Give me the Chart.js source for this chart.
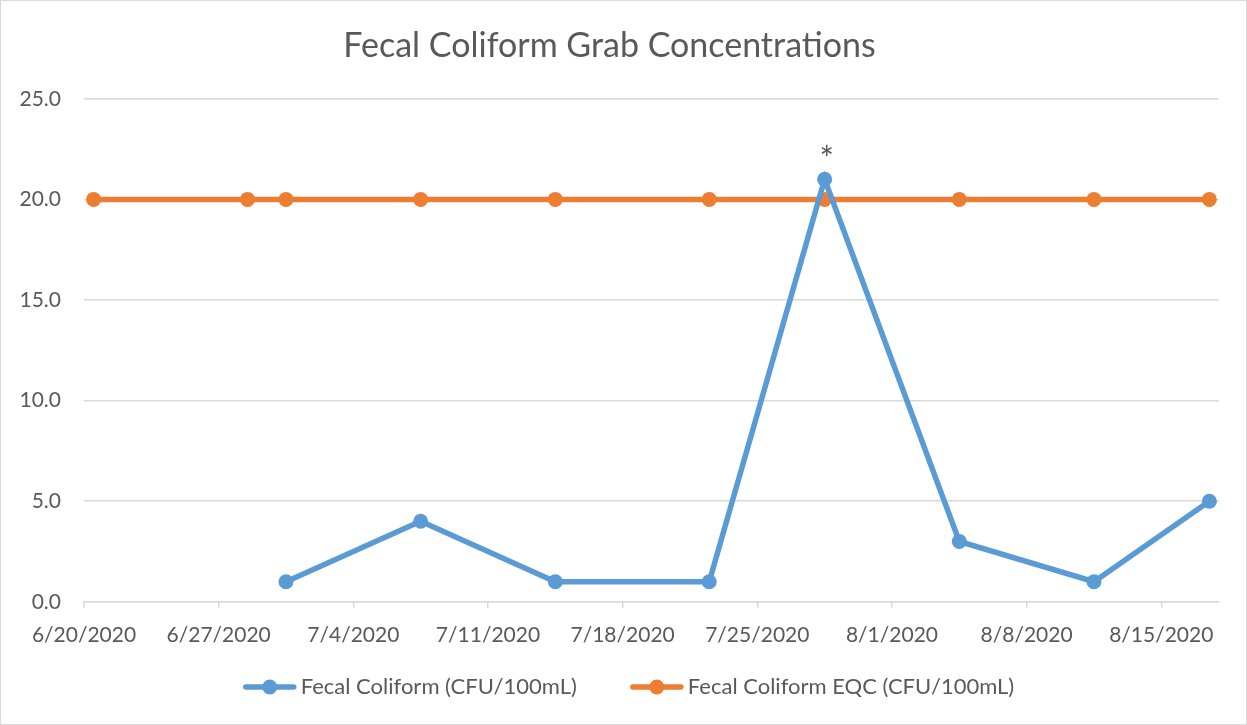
<!DOCTYPE html>
<html>
<head>
<meta charset="utf-8">
<script src="https://cdn.jsdelivr.net/npm/chart.js@4/dist/chart.umd.min.js"></script>
<style>
  html, body { margin: 0; padding: 0; background: #fff; }
  #wrap { width: 1247px; height: 725px; position: relative; }
</style>
</head>
<body>
<div id="wrap"><canvas id="chart"></canvas></div>
<script>
// axis runs from 6/20/2020, one tick per week
const axisStart = '2020-06-20'
const axisDays = 59

const sampleDates = ['2020-06-30', '2020-07-07', '2020-07-14', '2020-07-22', '2020-07-28', '2020-08-04', '2020-08-11', '2020-08-17']
const fecalValues = [1, 4, 1, 1, 21, 3, 1, 5]
const fecalNotes = ['', '', '', '', '*', '', '', '']

const eqcDates = ['2020-06-20', '2020-06-28', '2020-06-30', '2020-07-07', '2020-07-14', '2020-07-22', '2020-07-28', '2020-08-04', '2020-08-11', '2020-08-17']
const eqcValues = [20, 20, 20, 20, 20, 20, 20, 20, 20, 20]

const yTicks = [0, 5, 10, 15, 20, 25]

const BLUE = '#5b9bd5'
const ORANGE = '#ed7d31'
const TEXT = '#595959'
const GRID = '#d9d9d9'
const FONT = 'Lato, "Open Sans", sans-serif'
const LINE_W = 5.5
const DOT_R = 7.5

const DAY = 86400000
const startMs = Date.parse(axisStart + 'T00:00:00Z')
const dayIndex = s => (Date.parse(s + 'T00:00:00Z') - startMs) / DAY
// excel date axis puts the point in the middle of its day
const toPoints = (dates, vals) => dates.map((d, i) => ({ x: dayIndex(d) + 0.5, y: vals[i] }))
const fmtDate = n => {
  const d = new Date(startMs + n * DAY)
  return (d.getUTCMonth() + 1) + '/' + d.getUTCDate() + '/' + d.getUTCFullYear()
}

const notesPlugin = {
  id: 'notes',
  afterDatasetsDraw(chart) {
    const meta = chart.getDatasetMeta(0)
    const ctx = chart.ctx
    ctx.save()
    ctx.fillStyle = TEXT
    ctx.font = '34px ' + FONT
    ctx.textAlign = 'center'
    ctx.textBaseline = 'middle'
    meta.data.forEach((pt, i) => {
      if (fecalNotes[i]) ctx.fillText(fecalNotes[i], pt.x + 2, pt.y - 19)
    })
    ctx.restore()
  }
}

// excel style legend: line with a dot, wide gap between entries
const legendPlugin = {
  id: 'xlLegend',
  afterDraw(chart) {
    const ctx = chart.ctx
    const y = 687
    const markW = 54, textGap = 4, itemGap = 53
    ctx.save()
    ctx.font = '22px ' + FONT
    const items = chart.data.datasets.map(ds => ({
      text: ds.label, color: ds.borderColor, w: ctx.measureText(ds.label).width
    }))
    const total = items.reduce((s, it) => s + markW + textGap + it.w, 0) + itemGap * (items.length - 1)
    let x = chart.width / 2 + 5 - total / 2
    items.forEach(it => {
      ctx.strokeStyle = it.color
      ctx.fillStyle = it.color
      ctx.lineWidth = LINE_W
      ctx.lineCap = 'round'
      ctx.beginPath()
      ctx.moveTo(x + 3, y)
      ctx.lineTo(x + markW - 3, y)
      ctx.stroke()
      ctx.beginPath()
      ctx.arc(x + markW / 2, y, DOT_R, 0, Math.PI * 2)
      ctx.fill()
      x += markW + textGap
      ctx.fillStyle = TEXT
      ctx.textAlign = 'left'
      ctx.textBaseline = 'middle'
      ctx.fillText(it.text, x, y)
      x += it.w + itemGap
    })
    ctx.restore()
  }
}

const framePlugin = {
  id: 'frame',
  beforeDraw(chart) {
    const ctx = chart.ctx
    ctx.save()
    ctx.fillStyle = '#fff'
    ctx.fillRect(0, 0, chart.width, chart.height)
    ctx.strokeStyle = GRID
    ctx.lineWidth = 1
    ctx.strokeRect(0.5, 0.5, chart.width - 1, chart.height - 1)
    ctx.restore()
  }
}

const ctx = document.getElementById('chart').getContext('2d')

new Chart(ctx, {
  type: 'line',
  data: {
    datasets: [{
      label: 'Fecal Coliform (CFU/100mL)',
      data: toPoints(sampleDates, fecalValues),
      borderColor: BLUE,
      backgroundColor: BLUE,
      borderWidth: LINE_W,
      pointRadius: DOT_R,
      pointHoverRadius: DOT_R,
      pointBorderWidth: 0,
      tension: 0
    }, {
      label: 'Fecal Coliform EQC (CFU/100mL)',
      data: toPoints(eqcDates, eqcValues),
      borderColor: ORANGE,
      backgroundColor: ORANGE,
      borderWidth: LINE_W,
      pointRadius: DOT_R,
      pointHoverRadius: DOT_R,
      pointBorderWidth: 0,
      tension: 0
    }]
  },
  options: {
    responsive: true,
    maintainAspectRatio: false,
    animation: false,
    layout: { padding: { left: 0, right: 28, top: 0, bottom: 62 } },
    plugins: {
      title: {
        display: true,
        text: 'Fecal Coliform Grab Concentrations',
        color: TEXT,
        font: { family: FONT, size: 34, weight: 'normal' },
        padding: { top: 26, bottom: 32 }
      },
      legend: { display: false },
      tooltip: { enabled: false }
    },
    scales: {
      x: {
        type: 'linear',
        min: 0,
        max: axisDays,
        afterBuildTicks(scale) {
          scale.ticks = scale.ticks.filter(t => t.value % 7 === 0)
        },
        ticks: {
          stepSize: 7,
          color: TEXT,
          font: { family: FONT, size: 21 },
          maxRotation: 0,
          padding: 15,
          callback: v => fmtDate(v)
        },
        grid: { drawOnChartArea: false, color: GRID, tickLength: 6, lineWidth: 1.5 },
        border: { color: GRID, width: 1.5 }
      },
      y: {
        min: 0,
        max: 25,
        afterBuildTicks(scale) {
          scale.ticks = yTicks.map(v => ({ value: v }))
        },
        afterFit(scale) { scale.width = 84 },
        ticks: {
          color: TEXT,
          font: { family: FONT, size: 21 },
          padding: 23,
          callback: v => v.toFixed(1)
        },
        grid: { color: GRID, lineWidth: 1.5, drawTicks: false },
        border: { display: false }
      }
    }
  },
  plugins: [framePlugin, notesPlugin, legendPlugin]
})
</script>
</body>
</html>
